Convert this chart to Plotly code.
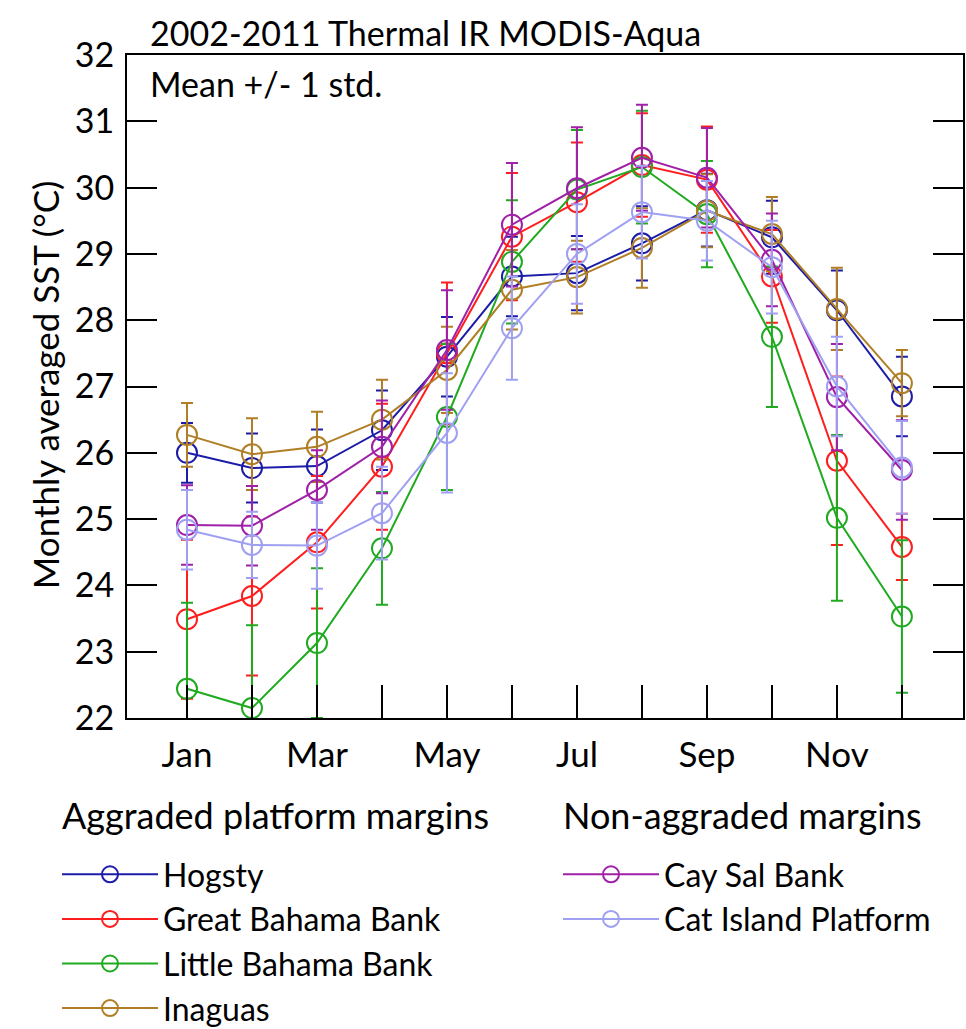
import plotly.graph_objects as go

month_pos = list(range(1, 13))
tick_labels = ["Jan", "", "Mar", "", "May", "", "Jul", "", "Sep", "", "Nov", ""]

hogsty = [26.00, 25.77, 25.80, 26.34, 27.45, 28.66, 28.71, 29.16, 29.66, 29.25, 28.15, 26.85]
hogsty_sd = [0.45, 0.52, 0.55, 0.60, 0.60, 0.60, 0.56, 0.56, 0.55, 0.55, 0.60, 0.60]

gbb = [23.49, 23.84, 24.65, 25.79, 27.50, 29.26, 29.78, 30.34, 30.12, 28.66, 25.88, 24.58]
gbb_sd = [1.20, 1.20, 1.00, 0.95, 1.07, 0.96, 0.90, 0.78, 0.80, 0.70, 1.27, 0.50]

lbb = [22.44, 22.15, 23.13, 24.56, 26.54, 28.88, 29.97, 30.31, 29.60, 27.75, 25.02, 23.53]
lbb_sd = [1.30, 1.25, 1.13, 0.85, 1.10, 0.93, 0.90, 0.85, 0.80, 1.06, 1.25, 1.15]

inaguas = [26.27, 25.98, 26.09, 26.50, 27.25, 28.46, 28.65, 29.09, 29.65, 29.30, 28.17, 27.05]
inaguas_sd = [0.48, 0.54, 0.53, 0.60, 0.65, 0.60, 0.55, 0.60, 0.55, 0.56, 0.62, 0.50]

caysal = [24.91, 24.90, 25.44, 26.09, 27.55, 29.44, 29.99, 30.45, 30.15, 28.91, 26.84, 25.74]
caysal_sd = [0.60, 0.60, 0.60, 0.70, 0.90, 0.93, 0.92, 0.80, 0.75, 0.70, 0.80, 0.75]

catisland = [24.84, 24.61, 24.60, 25.09, 26.30, 27.88, 29.00, 29.63, 29.50, 28.80, 27.00, 25.78]
catisland_sd = [0.60, 0.50, 0.65, 0.70, 0.90, 0.78, 0.75, 0.70, 0.60, 0.70, 0.75, 0.70]

group_titles = ["Aggraded platform margins", "Non-aggraded margins"]

FONT = "Lato"

series = [
    ("Hogsty", hogsty, hogsty_sd, "#1c1ca8", "legend"),
    ("Great Bahama Bank", gbb, gbb_sd, "#ff1e1e", "legend"),
    ("Little Bahama Bank", lbb, lbb_sd, "#20aa20", "legend"),
    ("Inaguas", inaguas, inaguas_sd, "#b07f25", "legend"),
    ("Cay Sal Bank", caysal, caysal_sd, "#a020a8", "legend2"),
    ("Cat Island Platform", catisland, catisland_sd, "#a0a0f2", "legend2"),
]

fig = go.Figure()
for name, vals, sds, col, leg in series:
    fig.add_trace(go.Scatter(
        x=month_pos, y=vals, name=name, mode="lines+markers",
        line=dict(color=col, width=2),
        marker=dict(symbol="circle-open", size=20, color=col, line=dict(width=2, color=col)),
        error_y=dict(type="data", array=sds, visible=True, color=col, thickness=2, width=6),
        legend=leg, legendgroup=name,
    ))

PX_W = 836.0
PX_H = 663.0
leg_y = (718 - 847) / PX_H

fig.update_layout(
    width=966, height=1029,
    margin=dict(l=127, r=3, t=55, b=311, autoexpand=False),
    paper_bgcolor="white", plot_bgcolor="white",
    font=dict(family=FONT, size=34, color="black"),
    xaxis=dict(range=[0.077, 12.94], tickvals=month_pos, ticktext=tick_labels,
               ticks="inside", ticklen=33, tickwidth=2, tickcolor="black",
               showline=True, linewidth=2, linecolor="black", mirror=True,
               showgrid=False, zeroline=False, ticklabelstandoff=5,
               tickfont=dict(size=35), automargin=False),
    yaxis=dict(range=[22, 32], dtick=1, ticks="inside", ticklen=30, tickwidth=2,
               tickcolor="black", showline=True, linewidth=2, linecolor="black",
               mirror="ticks", showgrid=False, zeroline=False, ticklabelstandoff=4,
               tickfont=dict(size=34), automargin=False),
    legend=dict(x=(57 - 127) / PX_W, y=leg_y, xanchor="left", yanchor="top",
                font=dict(size=32), itemsizing="trace", tracegroupgap=0,
                itemwidth=96, bgcolor="rgba(0,0,0,0)"),
    legend2=dict(x=(558 - 127) / PX_W, y=leg_y, xanchor="left", yanchor="top",
                 font=dict(size=32), itemsizing="trace", tracegroupgap=0,
                 itemwidth=96, bgcolor="rgba(0,0,0,0)"),
    showlegend=True,
)

fig.add_annotation(text=group_titles[0], xref="paper", yref="paper",
                   x=(60 - 127) / PX_W, y=(718 - 815) / PX_H, xanchor="left", yanchor="middle",
                   showarrow=False, font=dict(size=36))
fig.add_annotation(text=group_titles[1], xref="paper", yref="paper",
                   x=(561 - 127) / PX_W, y=(718 - 815) / PX_H, xanchor="left", yanchor="middle",
                   showarrow=False, font=dict(size=36))
fig.add_annotation(text="2002-2011 Thermal IR MODIS-Aqua", xref="paper", yref="paper",
                   x=(148 - 127) / PX_W, y=1.0, xanchor="left", yanchor="bottom",
                   showarrow=False, yshift=0, font=dict(size=34))
fig.add_annotation(text="Mean +/- 1 std.", xref="paper", yref="paper",
                   x=(148 - 127) / PX_W, y=1.0, xanchor="left", yanchor="top",
                   showarrow=False, yshift=-6, font=dict(size=34))
fig.add_annotation(text="Monthly averaged SST (°C)", xref="paper", yref="paper",
                   x=(45 - 127) / PX_W, y=0.502, xanchor="center", yanchor="middle",
                   textangle=-90, showarrow=False, font=dict(size=35))

fig.write_html("out.html")
